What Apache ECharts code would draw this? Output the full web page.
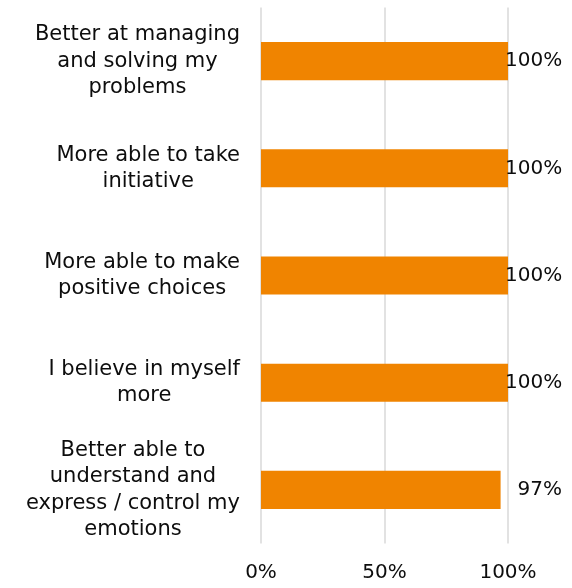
<!DOCTYPE html>
<html>
<head>
<meta charset="utf-8">
<script src="https://cdn.jsdelivr.net/npm/echarts@6/dist/echarts.min.js"></script>
<style>
  html, body { margin: 0; padding: 0; background: #fff; }
  #chart { width: 572px; height: 588px; }
</style>
</head>
<body>
<div id="chart"></div>
<script>
// Survey statements (top to bottom) and share of respondents agreeing
const categories = [
  'Better at managing\nand solving my\nproblems',
  'More able to take\ninitiative',
  'More able to make\npositive choices',
  'I believe in myself\nmore',
  'Better able to\nunderstand and\nexpress / control my\nemotions'
];
const values = [100, 100, 100, 100, 97];
const xTicks = [0, 50, 100];

const FONT = '"DejaVu Sans", Verdana, sans-serif';
const chart = echarts.init(document.getElementById('chart'));

chart.setOption({
  animation: false,
  grid: { left: 261, right: 64, top: 7.5, bottom: 44.5, containLabel: false, outerBoundsMode: 'none' },
  xAxis: {
    type: 'value',
    min: xTicks[0],
    max: xTicks[xTicks.length - 1],
    interval: xTicks[1] - xTicks[0],
    axisLine: { show: false },
    axisTick: { show: false },
    splitLine: { show: true, lineStyle: { color: '#d9d9d9', width: 1.5 } },
    axisLabel: {
      formatter: v => v + '%',
      color: '#0d0d0d',
      fontFamily: FONT,
      fontSize: 20,
      margin: 19
    }
  },
  yAxis: {
    type: 'category',
    inverse: true,
    data: categories,
    axisLine: { show: false },
    axisTick: { show: false },
    axisLabel: {
      align: 'right',
      margin: 21,
      formatter: v => v.split('\n').map(s => '{a|' + s + '}').join('\n'),
      rich: {
        a: { align: 'center', color: '#0d0d0d', fontFamily: FONT, fontSize: 21, lineHeight: 26.5 }
      }
    }
  },
  series: [{
    type: 'bar',
    barCategoryGap: '64.5%',
    itemStyle: { color: '#F08400' },
    data: values.map(v => ({
      value: v,
      label: { distance: v >= 100 ? -3 : 17 }
    })),
    label: {
      show: true,
      position: 'right',
      formatter: p => p.value + '%',
      color: '#0d0d0d',
      fontFamily: FONT,
      fontSize: 20
    }
  }]
});
</script>
</body>
</html>
